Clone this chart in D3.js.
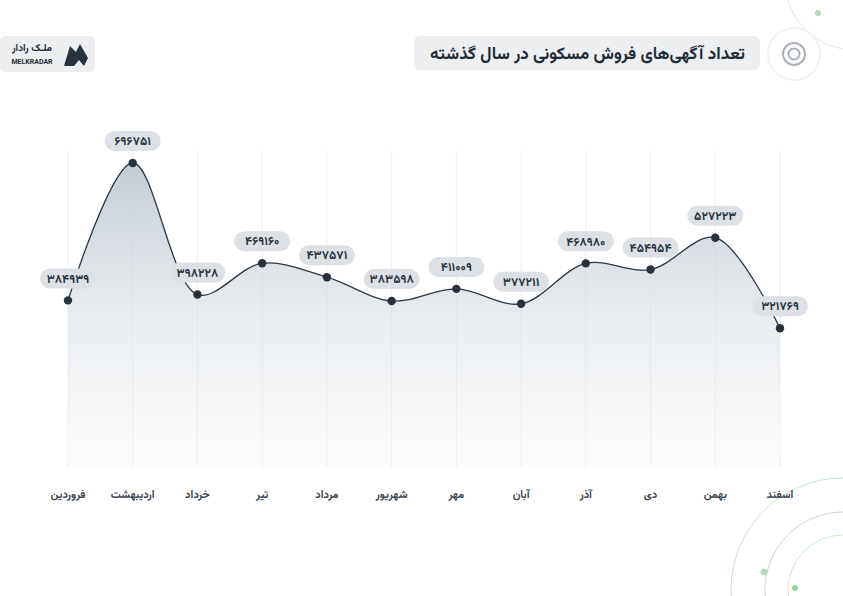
<!DOCTYPE html><html><head><meta charset="utf-8">
<script src="https://cdn.jsdelivr.net/npm/d3@7"></script>
<style>body{margin:0;background:#fff}svg{display:block;font-family:Vazirmatn,"Noto Sans","DejaVu Sans",sans-serif}</style></head><body>
<svg id="c" width="843" height="596"></svg>
<script>
const months=["فروردین","اردیبهشت","خرداد","تیر","مرداد","شهریور","مهر","آبان","آذر","دی","بهمن","اسفند"];
const values=[384939,696751,398228,469160,437571,383598,411009,377211,468980,454954,527223,321769];
const fa=n=>String(n).replace(/\d/g,d=>"۰۱۲۳۴۵۶۷۸۹"[d]);
const svg=d3.select("#c");
const x=d3.scalePoint().domain(months).range([68,780]);
const y=d3.scaleLinear().domain([0,696751]).range([470,163]);
const defs=svg.append("defs");
const g=defs.append("linearGradient").attr("id","ga").attr("x1",0).attr("y1",0).attr("x2",0).attr("y2",1);
g.append("stop").attr("offset","0%").attr("stop-color","#b9c3ce").attr("stop-opacity",0.85);
g.append("stop").attr("offset","100%").attr("stop-color","#eef1f4").attr("stop-opacity",0.2);
const dec=svg.append("g").attr("fill","none");
dec.append("circle").attr("cx",843).attr("cy",590).attr("r",112).attr("stroke","#bfe8c8");
dec.append("circle").attr("cx",843).attr("cy",590).attr("r",78).attr("stroke","#cfd3d6");
dec.append("circle").attr("cx",843).attr("cy",590).attr("r",55).attr("stroke","#c8edd0");
svg.append("circle").attr("cx",764).attr("cy",572).attr("r",3.5).attr("fill","#b5d6bf");
svg.append("circle").attr("cx",795).attr("cy",588).attr("r",3).attr("fill","#8fd6a0");
dec.append("circle").attr("cx",855).attr("cy",-20).attr("r",70).attr("stroke","#d8efdc");
svg.append("circle").attr("cx",818).attr("cy",13).attr("r",3).attr("fill","#b5d6bf");
svg.append("g").selectAll("line").data(months).join("line")
 .attr("x1",d=>x(d)).attr("x2",d=>x(d)).attr("y1",150).attr("y2",468).attr("stroke","#eef0f2");
const pts=months.map((m,i)=>[x(m),y(values[i])]);
const curve=d3.curveCatmullRom.alpha(0.5);
svg.append("path").attr("d",d3.area().x(d=>d[0]).y0(468).y1(d=>d[1]).curve(curve)(pts)).attr("fill","url(#ga)");
svg.append("path").attr("d",d3.line().curve(curve)(pts)).attr("fill","none").attr("stroke","#2a3744").attr("stroke-width",1.3);
svg.append("g").selectAll("circle").data(pts).join("circle").attr("cx",d=>d[0]).attr("cy",d=>d[1]).attr("r",4.2).attr("fill","#27323d");
const lab=svg.append("g").selectAll("g").data(months).join("g").attr("transform",(d,i)=>`translate(${x(d)},${y(values[i])-22})`);
lab.append("rect").attr("x",-28).attr("y",-10).attr("width",56).attr("height",20).attr("rx",10).attr("fill","#dde1e5");
lab.append("text").attr("text-anchor","middle").attr("dy","0.35em").attr("font-size",12).attr("font-weight",700).attr("fill","#2a3540").text((d,i)=>fa(values[i]));
svg.append("g").selectAll("text").data(months).join("text").attr("x",d=>x(d)).attr("y",498).attr("text-anchor","middle").attr("font-size",11).attr("font-weight",700).attr("fill","#3a4550").text(d=>d);
svg.append("rect").attr("x",414).attr("y",36).attr("width",346).attr("height",34).attr("rx",6).attr("fill","#eceef0");
svg.append("text").attr("x",745).attr("y",59).attr("text-anchor","start").attr("direction","rtl").attr("font-size",17).attr("font-weight",700).attr("fill","#1f2a35").text("تعداد آگهی‌های فروش مسکونی در سال گذشته");
const ic=svg.append("g").attr("fill","none");
ic.append("circle").attr("cx",794).attr("cy",54).attr("r",26).attr("stroke","#f0f1f2").attr("stroke-width",2);
ic.append("circle").attr("cx",794).attr("cy",54).attr("r",11).attr("stroke","#a9b0b6").attr("stroke-width",2);
ic.append("circle").attr("cx",794).attr("cy",54).attr("r",5.5).attr("stroke","#a9b0b6").attr("stroke-width",2);
svg.append("rect").attr("x",0).attr("y",36).attr("width",95).attr("height",36).attr("rx",5).attr("fill","#eceef0");
svg.append("text").attr("x",32).attr("y",51).attr("text-anchor","middle").attr("font-size",10).attr("font-weight",700).attr("fill","#1f2a35").text("ملـک رادار");
svg.append("text").attr("x",32).attr("y",64).attr("text-anchor","middle").attr("font-size",7).attr("font-weight",700).attr("fill","#1f2a35").text("MELKRADAR");
svg.append("path").attr("d","M64,66 L70,46 L76,52 L80,44 L88,58 L84,66 L79,60 L74,66 Z").attr("fill","#26323d");
</script></body></html>
